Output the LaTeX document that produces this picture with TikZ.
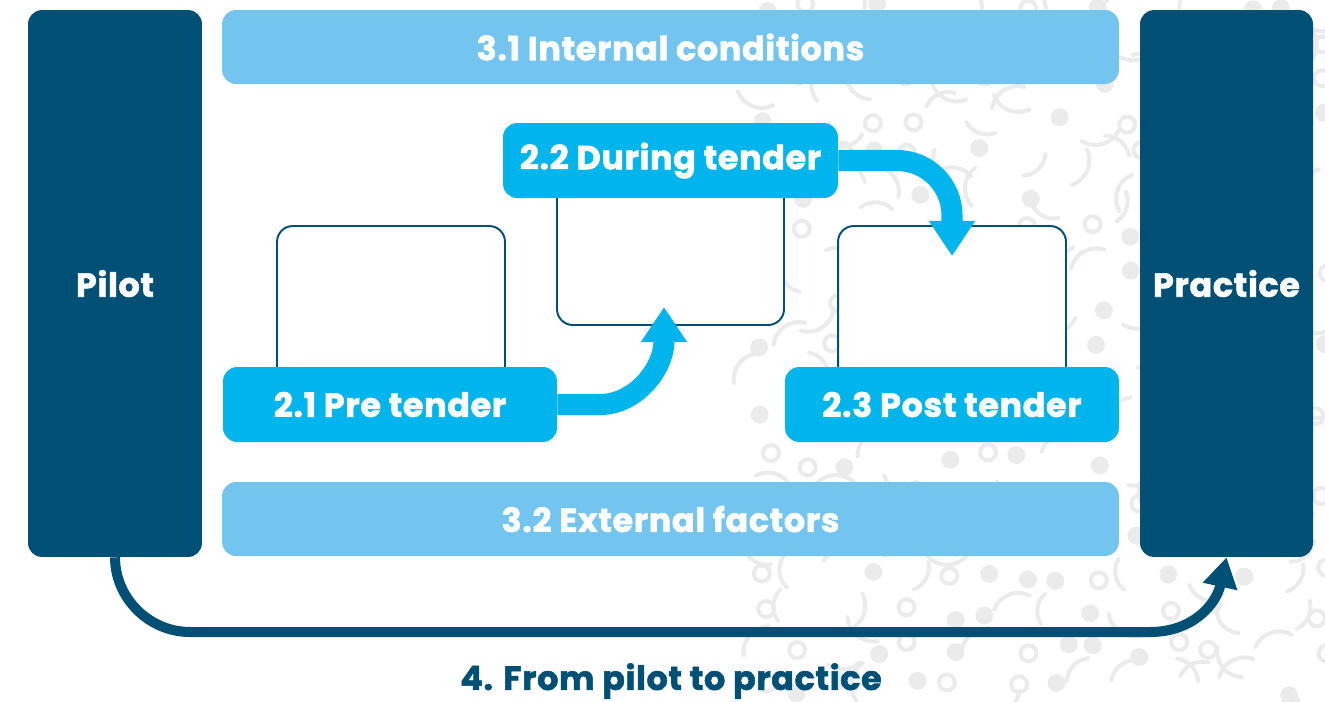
\documentclass[tikz,border=0pt]{standalone}
\usepackage{fontspec}
\setmainfont{Poppins}[BoldFeatures={FakeBold=1.6},LetterSpace=2]
\usetikzlibrary{arrows.meta,calc}
\definecolor{navy}{HTML}{004F75}
\definecolor{lblue}{HTML}{73C4EE}
\definecolor{cyanb}{HTML}{00B5EC}
\definecolor{decog}{HTML}{EBEBEB}
\begin{document}
\begin{tikzpicture}[x=0.02cm,y=-0.02cm,
  lbl/.style={font=\fontsize{19pt}{21pt}\selectfont\bfseries},
  sidebox/.style={fill=navy,rounded corners=8pt,text=white,lbl,inner sep=0pt},
  band/.style={fill=lblue,rounded corners=8pt,text=white,lbl,minimum width=17.94cm,minimum height=1.48cm,inner sep=0pt},
  stage/.style={fill=cyanb,rounded corners=8pt,text=white,lbl,minimum height=1.5cm,inner sep=0pt},
  frame/.style={draw=navy,line width=1.1pt,fill=white,rounded corners=9pt,inner sep=0pt},
  bigarrow/.style={draw=cyanb,line width=12pt,-{Triangle[width=25pt,length=20pt]}},
  deco/.style={draw=decog,line width=2.3pt,line cap=round},
  decofill/.style={fill=decog}]
\useasboundingbox (0,0) rectangle (1325,701);
% decorative background pattern
\pgfmathsetseed{11}
\foreach \i in {0,...,15} {
  \foreach \j in {0,...,18} {
    \pgfmathsetmacro\px{765+\i*37+rnd*16-8}
    \pgfmathsetmacro\py{4+\j*38+rnd*16-8}
    \pgfmathtruncatemacro\kind{int(4*rnd)}
    \pgfmathsetmacro\ang{360*rnd}
    \ifcase\kind
      \draw[deco] (\px,\py) circle[radius=8];
    \or
      \fill[decofill] (\px,\py) circle[radius=9];
    \or
      \draw[deco] (\px,\py) ++(\ang:26) arc[start angle=\ang, delta angle=95, radius=26];
    \or
      \draw[deco] (\px,\py) ++(\ang:24) arc[start angle=\ang, delta angle=80, radius=24];
    \fi
  }
}
% side boxes
\node[sidebox,minimum width=3.48cm,minimum height=10.94cm] (pilot) at (115,283.5) {\raisebox{-3pt}{Pilot}};
\node[sidebox,minimum width=3.46cm,minimum height=10.94cm] (practice) at (1226.5,283.5) {\raisebox{-3pt}{Practice}};
% bands
\node[band] (internal) at (670.5,47) {3.1 Internal conditions};
\node[band] (external) at (670.5,519) {3.2 External factors};
% frames
\node[frame,minimum width=4.56cm,minimum height=3.48cm] (frameA) at (391,313) {};
\node[frame,minimum width=4.54cm,minimum height=3.1cm] (frameB) at (670.5,247.5) {};
\node[frame,minimum width=4.56cm,minimum height=3.48cm] (frameC) at (952,313) {};
% stages
\node[stage,minimum width=6.68cm] (pre) at (390,404.5) {2.1 Pre tender};
\node[stage,minimum width=6.7cm] (during) at (670.5,160.5) {2.2 During tender};
\node[stage,minimum width=6.68cm] (post) at (952,404.5) {2.3 Post tender};
% arrows
\coordinate (tipB) at (664,307);
\coordinate (tipC) at (952,256);
\draw[bigarrow] (pre.east) -- (600,404.5) .. controls (635.3,404.5) and (664,369.2) .. (664,340.5) -- (tipB);
\draw[bigarrow] (during.east) -- (897,160.5) .. controls (927.4,160.5) and (952,185.1) .. (952,215.5) -- (tipC);
\draw[navy,line width=5.7pt,-{Triangle[width=19pt,length=17pt]}] (pilot.south) .. controls (115,598) and (149,632) .. (190,632) -- (1150,632) .. controls (1192,632) and (1216,605) .. (practice.south);
\node[lbl,text=navy,inner sep=0pt] (title) at (671,681) {4. From pilot to practice};
\end{tikzpicture}
\end{document}
